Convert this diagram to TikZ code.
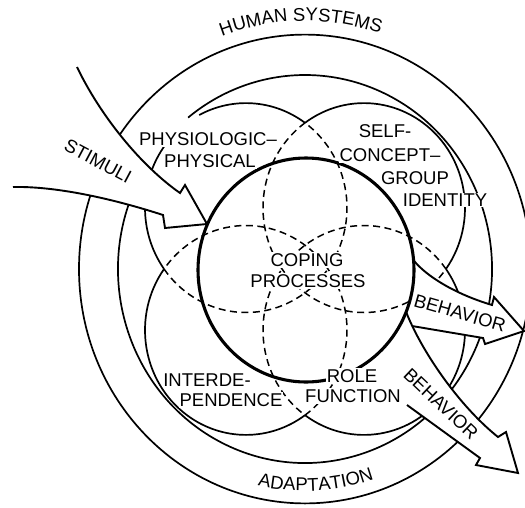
\documentclass[tikz,border=0pt]{standalone}
\usepackage{fontspec}
\setmainfont{Liberation Sans}
\usetikzlibrary{decorations.text,calc}
\newcommand\lblfont{\fontsize{18.5pt}{20pt}\selectfont}
\begin{document}
\begin{tikzpicture}[x=1pt,y=-1pt,
  ln/.style={line width=1.7pt},
  thk/.style={line width=3.1pt},
  dsh/.style={line width=1.5pt, dash pattern=on 7pt off 4.5pt},
  arw/.style={line width=1.9pt, line join=miter},
  c4/.style={x radius=101pt, y radius=104.7pt},
  ct/.style={x radius=108pt, y radius=112pt},
  lbl/.style={font=\lblfont, fill=white, inner sep=1pt},
  txt/.style={font=\lblfont, inner sep=0pt}]
\useasboundingbox (0,0) rectangle (525,507);
\clip (0,0) rectangle (525,507);
\coordinate (C) at (305,269);
\coordinate (TC) at (306,270);
\coordinate (UL) at (246,207.8);
\coordinate (UR) at (364,207.8);
\coordinate (LL) at (246,330.2);
\coordinate (LR) at (364,330.2);
% outer circle and ring
\draw[ln] (C) ellipse [x radius=226pt, y radius=234.4pt];
\draw[ln] ([shift={(C)}]155:187pt and 194pt) arc[start angle=155, end angle=488.7, x radius=187pt, y radius=194pt];
% four circles: solid outer parts
\draw[ln] ([shift={(UL)}]54.3:101pt and 104.7pt) arc[c4, start angle=54.3, end angle=117.6];
\draw[ln] ([shift={(UL)}]143:101pt and 104.7pt) arc[c4, start angle=143, end angle=215.7];
\draw[ln] ([shift={(UR)}]-35.7:101pt and 104.7pt) arc[c4, start angle=-35.7, end angle=125.7];
\draw[ln] ([shift={(LL)}]144.3:101pt and 104.7pt) arc[c4, start angle=144.3, end angle=305.7];
\draw[ln] ([shift={(LR)}]234.3:101pt and 104.7pt) arc[c4, start angle=234.3, end angle=395.7];
% four circles: dashed inner parts
\draw[dsh] ([shift={(UL)}]215.7:101pt and 104.7pt) arc[c4, start angle=215.7, end angle=414.3];
\draw[dsh] ([shift={(UR)}]125.7:101pt and 104.7pt) arc[c4, start angle=125.7, end angle=324.3];
\draw[dsh] ([shift={(LL)}]-54.3:101pt and 104.7pt) arc[c4, start angle=-54.3, end angle=144.3];
\draw[dsh] ([shift={(LR)}]35.7:101pt and 104.7pt) arc[c4, start angle=35.7, end angle=234.3];
% STIMULI arrow
\fill[white] (77,67) .. controls (100,115) and (140,165) .. (180,193) -- (185,185) -- (207,224) -- (165,228) -- (163,215) .. controls (120,201) and (60,186) .. (13,187) -- cycle;
\draw[arw] (77,67) .. controls (100,115) and (140,165) .. (180,193) -- (185,185) -- (207,224) -- (165,228) -- (163,215) .. controls (120,201) and (60,186) .. (13,187);
% upper BEHAVIOR arrow
\fill[white] ([shift={(TC)}]5:108pt and 112pt) .. controls (426,276) and (455,294) .. (492,305) -- (494,297) -- (524,331) -- (485,344) -- (483,338) -- (412,326) -- ([shift={(TC)}]-22:108pt and 112pt) arc[ct, start angle=-22, end angle=5] -- cycle;
\draw[arw] ([shift={(TC)}]5:108pt and 112pt) .. controls (426,276) and (455,294) .. (492,305) -- (494,297) -- (524,331) -- (485,344) -- (483,338) -- (412,326);
% lower BEHAVIOR arrow
\fill[white] ([shift={(TC)}]-22:108pt and 112pt) .. controls (421,350) and (458,405) .. (498,437) -- (506,432) -- (518,473) -- (476,465) -- (480,458) -- (407,405) -- ([shift={(TC)}]-54:108pt and 112pt) arc[ct, start angle=-54, end angle=-22] -- cycle;
\draw[arw] ([shift={(TC)}]-22:108pt and 112pt) .. controls (421,350) and (458,405) .. (498,437) -- (506,432) -- (518,473) -- (476,465) -- (480,458) -- (407,405);
% central thick circle
\draw[thk] (TC) ellipse [ct];
% labels
\node[lbl] (phys1) at (208,139) {PHYSIOLOGIC--};
\node[lbl] (phys2) at (210,161) {PHYSICAL};
\node[lbl] (self1) at (385,131) {SELF-};
\node[lbl] (self2) at (390,155) {CONCEPT--};
\node[lbl] (self3) at (415,178) {GROUP};
\node[lbl] (self4) at (445,200) {IDENTITY};
\node[lbl] (cop1) at (307,260) {COPING};
\node[lbl] (cop2) at (308,281) {PROCESSES};
\node[lbl] (int1) at (207,380) {INTERDE-};
\node[lbl] (int2) at (231,400) {PENDENCE};
\node[lbl] (role1) at (352,376) {ROLE};
\node[lbl] (role2) at (353,396) {FUNCTION};
\node[txt, rotate=-28] (stim) at (98,161) {STIMULI};
\node[txt, rotate=-16] (beh1) at (460,313) {BEHAVIOR};
\node[txt, rotate=-43.5] (beh2) at (441,404) {BEHAVIOR};
% curved texts
\path[decorate, decoration={text along path, text align=center, text={|\lblfont|HUMAN SYSTEMS}}]
  ([shift={(C)}]116:239pt and 248pt) arc[start angle=116, end angle=66, x radius=239pt, y radius=248pt];
\path[decorate, decoration={text along path, text align=center, text={|\lblfont|ADAPTATION}}]
  ([shift={(C)}]-117:214pt and 222pt) arc[start angle=-117, end angle=-57, x radius=214pt, y radius=222pt];
\end{tikzpicture}
\end{document}
